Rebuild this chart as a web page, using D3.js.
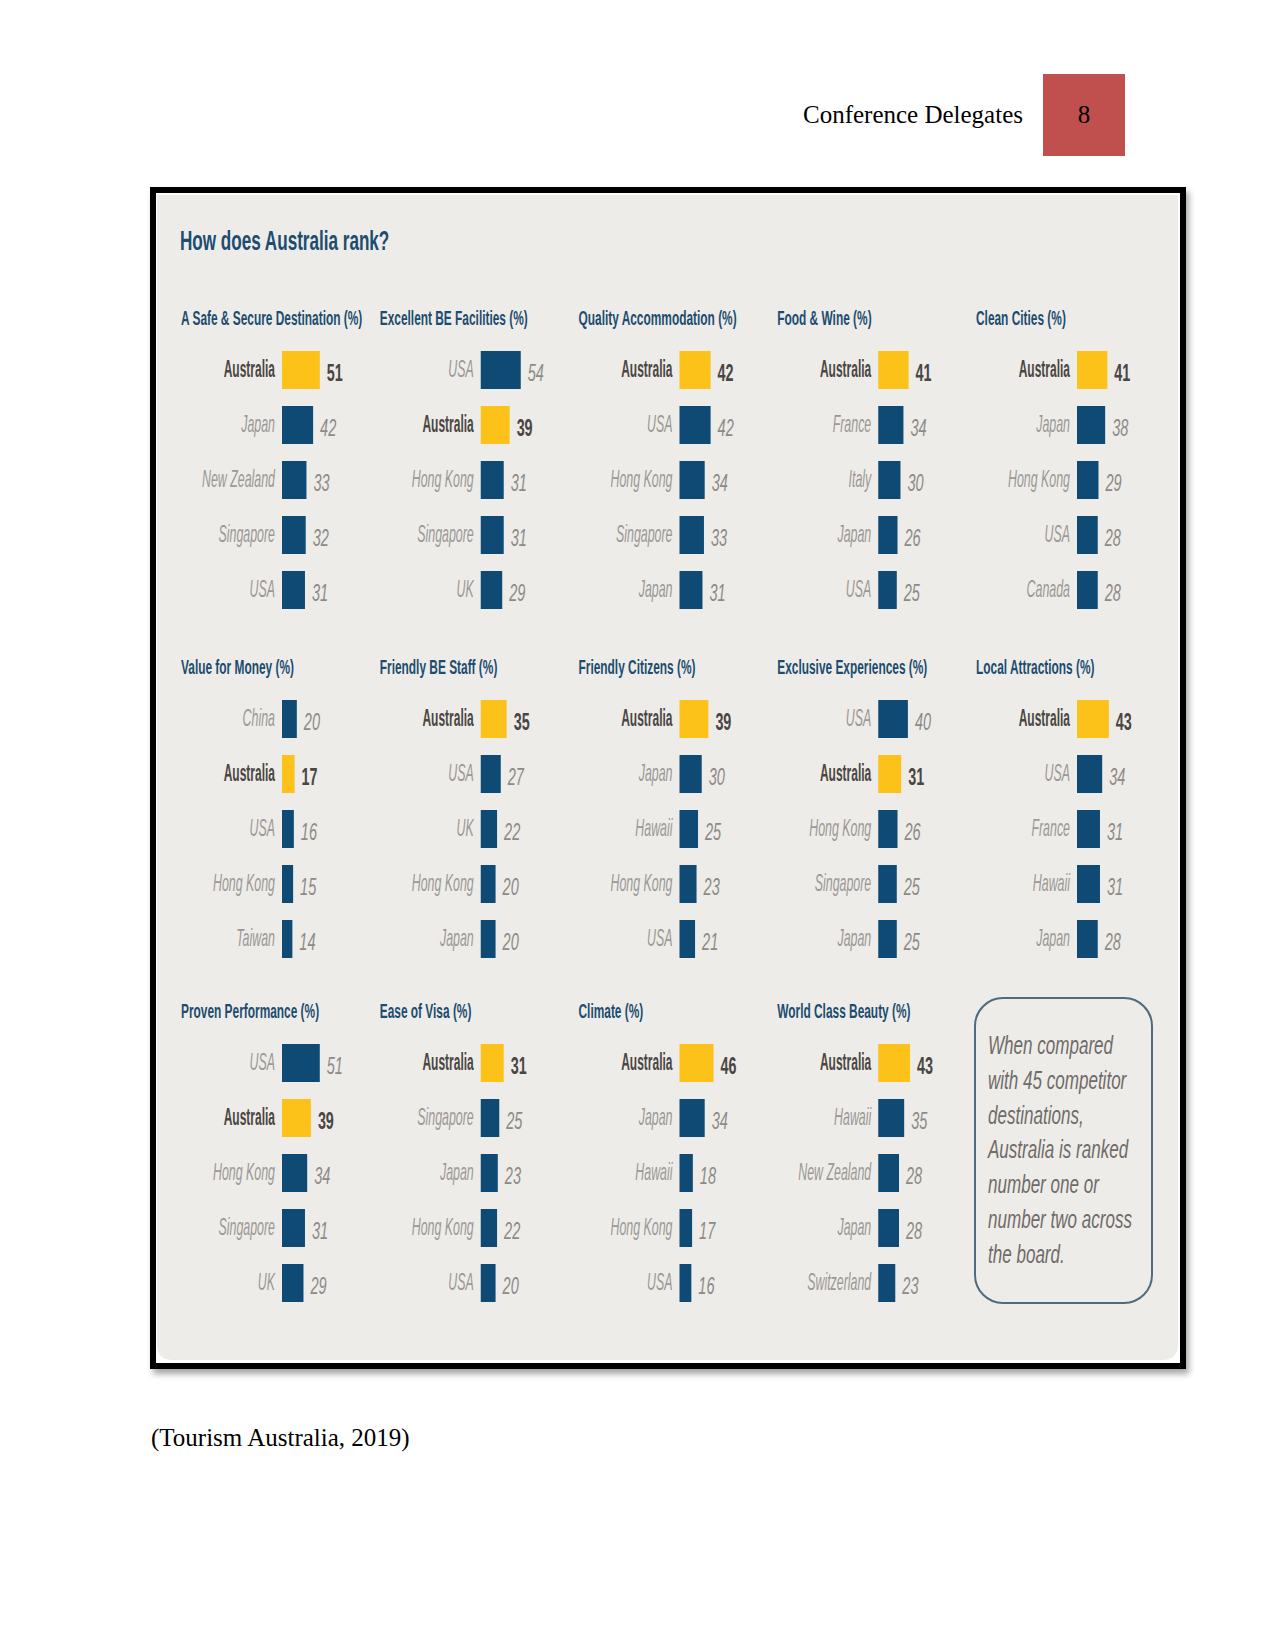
<!DOCTYPE html>
<html><head><meta charset="utf-8">
<script src="https://cdn.jsdelivr.net/npm/d3@7"></script>
<style>body{margin:0;background:#fff}</style>
</head><body>
<script>
// ---------- DATA ----------
const headerTitle = "Conference Delegates";
const pageNumber = "8";
const chartTitle = "How does Australia rank?";
const citation = "(Tourism Australia, 2019)";
const highlight = "Australia";

const panelTitles = [
  "A Safe & Secure Destination (%)", "Excellent BE Facilities (%)", "Quality Accommodation (%)", "Food & Wine (%)", "Clean Cities (%)",
  "Value for Money (%)", "Friendly BE Staff (%)", "Friendly Citizens  (%)", "Exclusive Experiences (%)", "Local Attractions (%)",
  "Proven Performance (%)", "Ease of Visa (%)", "Climate  (%)", "World Class Beauty (%)"
];
const panelCountries = [
  ["Australia", "Japan", "New Zealand", "Singapore", "USA"],
  ["USA", "Australia", "Hong Kong", "Singapore", "UK"],
  ["Australia", "USA", "Hong Kong", "Singapore", "Japan"],
  ["Australia", "France", "Italy", "Japan", "USA"],
  ["Australia", "Japan", "Hong Kong", "USA", "Canada"],
  ["China", "Australia", "USA", "Hong Kong", "Taiwan"],
  ["Australia", "USA", "UK", "Hong Kong", "Japan"],
  ["Australia", "Japan", "Hawaii", "Hong Kong", "USA"],
  ["USA", "Australia", "Hong Kong", "Singapore", "Japan"],
  ["Australia", "USA", "France", "Hawaii", "Japan"],
  ["USA", "Australia", "Hong Kong", "Singapore", "UK"],
  ["Australia", "Singapore", "Japan", "Hong Kong", "USA"],
  ["Australia", "Japan", "Hawaii", "Hong Kong", "USA"],
  ["Australia", "Hawaii", "New Zealand", "Japan", "Switzerland"]
];
const panelValues = [
  [51, 42, 33, 32, 31],
  [54, 39, 31, 31, 29],
  [42, 42, 34, 33, 31],
  [41, 34, 30, 26, 25],
  [41, 38, 29, 28, 28],
  [20, 17, 16, 15, 14],
  [35, 27, 22, 20, 20],
  [39, 30, 25, 23, 21],
  [40, 31, 26, 25, 25],
  [43, 34, 31, 31, 28],
  [51, 39, 34, 31, 29],
  [31, 25, 23, 22, 20],
  [46, 34, 18, 17, 16],
  [43, 35, 28, 28, 23]
];
const boxLines = ["When compared", "with 45 competitor", "destinations,", "Australia is ranked", "number one or", "number two across", "the board."];

// ---------- STYLE ----------
const C = {
  navy: "#0e4a73", yellow: "#fcc21a", bg: "#eeece8", titleBlue: "#1c4d70",
  boldText: "#4a4643", lightText: "#9b9896", lightVal: "#8d8a87", boxText: "#6e6b68", boxStroke: "#4f6b7f",
  red: "#c0504d"
};
const NARROW = "'Liberation Sans Narrow', 'Liberation Sans', Arial, sans-serif";
const WIDE = "'Liberation Sans', Arial, sans-serif";
const SERIF = "'Liberation Serif', 'Times New Roman', serif";

// squeeze text horizontally with a transform (emulates a condensed face)
function fit(sel, k) {
  sel.each(function () {
    const t = d3.select(this);
    const x0 = +t.attr("x") || 0, y0 = +t.attr("y") || 0;
    t.style("font-family", WIDE);
    const w = this.getComputedTextLength();
    t.style("font-family", NARROW);
    const w2 = this.getComputedTextLength() || 1;
    const s = (w * 0.82 * k) / w2;
    t.attr("x", 0).attr("y", 0).attr("transform", `translate(${x0},${y0}) scale(${s},1)`);
  });
}

const W = 1275, H = 1650;
const svg = d3.select("body").append("svg").attr("width", W).attr("height", H);
const defs = svg.append("defs");
const f = defs.append("filter").attr("id", "shadow").attr("x", "-5%").attr("y", "-5%").attr("width", "110%").attr("height", "110%");
f.append("feDropShadow").attr("dx", 3).attr("dy", 5).attr("stdDeviation", 3).attr("flood-color", "#000").attr("flood-opacity", 0.35);

// ---------- PAGE HEADER ----------
svg.append("text").attr("x", 1023).attr("y", 123).attr("text-anchor", "end")
  .style("font-family", SERIF).style("font-size", "25px").attr("fill", "#000").text(headerTitle);
svg.append("rect").attr("x", 1043).attr("y", 74).attr("width", 82).attr("height", 82).attr("fill", C.red);
svg.append("text").attr("x", 1084).attr("y", 123).attr("text-anchor", "middle")
  .style("font-family", SERIF).style("font-size", "25px").attr("fill", "#000").text(pageNumber);

// ---------- FRAME ----------
svg.append("rect").attr("x", 153).attr("y", 190).attr("width", 1030).attr("height", 1176)
  .attr("fill", "#fff").attr("stroke", "#000").attr("stroke-width", 6).attr("filter", "url(#shadow)");
svg.append("path").attr("fill", C.bg)
  .attr("d", (() => {
    const x0 = 157, y0 = 195, x1 = 1178, y1 = 1360, r = 16;
    return `M${x0},${y0}H${x1}V${y1 - r}Q${x1},${y1} ${x1 - r},${y1}H${x0 + r}Q${x0},${y1} ${x0},${y1 - r}Z`;
  })());

// ---------- TITLE ----------
svg.append("text").attr("x", 180).attr("y", 250)
  .style("font-size", "28px").style("font-weight", "bold").attr("fill", C.titleBlue)
  .text(chartTitle).call(fit, 0.745);

// ---------- PANELS ----------
const x = d3.scaleLinear().domain([0, 54]).range([0, 40]);
const y = d3.scaleBand().domain(d3.range(5)).range([0, 275]).paddingInner(17 / 55).paddingOuter(17 / 110);
const colStart = d3.scaleLinear().domain([0, 4]).range([282, 1077]);
const rowTop = [351, 700, 1044];
const bw = y.bandwidth();

panelTitles.forEach((title, i) => {
  const c = i % 5, r = Math.floor(i / 5);
  const g = svg.append("g").attr("transform", `translate(${colStart(c)},${rowTop[r] - y(0)})`);
  g.append("text").attr("x", -101).attr("y", y(0) - 26)
    .style("font-size", "20px").style("font-weight", "bold").attr("fill", C.titleBlue)
    .text(title).call(fit, 0.726);

  const rows = panelCountries[i].map((name, j) => ({ name, v: panelValues[i][j], j, hi: name === highlight }));

  g.selectAll("rect.bar").data(rows).join("rect").attr("class", "bar")
    .attr("x", 0).attr("y", d => y(d.j)).attr("width", d => x(d.v)).attr("height", bw)
    .attr("fill", d => d.hi ? C.yellow : C.navy);

  g.selectAll("text.lab").data(rows).join("text").attr("class", "lab")
    .attr("x", -7).attr("y", d => y(d.j) + bw / 2 + 7).attr("text-anchor", "end")
    .style("font-size", "24px")
    .style("font-weight", d => d.hi ? "bold" : "normal")
    .style("font-style", d => d.hi ? "normal" : "italic")
    .attr("fill", d => d.hi ? C.boldText : C.lightText)
    .text(d => d.name)
    .each(function (d) { d3.select(this).call(fit, d.hi ? 0.61 : 0.63); });

  g.selectAll("text.val").data(rows).join("text").attr("class", "val")
    .attr("x", d => x(d.v) + 7).attr("y", d => y(d.j) + bw / 2 + 11)
    .style("font-size", "24px")
    .style("font-weight", d => d.hi ? "bold" : "normal")
    .style("font-style", d => d.hi ? "normal" : "italic")
    .attr("fill", d => d.hi ? C.boldText : C.lightVal)
    .text(d => d.v)
    .each(function (d) { d3.select(this).call(fit, d.hi ? 0.73 : 0.74); });
});

// ---------- NOTE BOX ----------
svg.append("rect").attr("x", 975).attr("y", 998).attr("width", 177).attr("height", 305).attr("rx", 28)
  .attr("fill", "none").attr("stroke", C.boxStroke).attr("stroke-width", 2);
svg.append("g").selectAll("text").data(boxLines).join("text")
  .attr("x", 988).attr("y", (d, i) => 1054 + i * 34.8)
  .style("font-size", "26px").style("font-style", "italic").attr("fill", C.boxText)
  .text(d => d).each(function () { d3.select(this).call(fit, 0.80); });

// ---------- CITATION ----------
svg.append("text").attr("x", 151).attr("y", 1446)
  .style("font-family", SERIF).style("font-size", "25px").attr("fill", "#000").text(citation);
</script>
</body></html>
